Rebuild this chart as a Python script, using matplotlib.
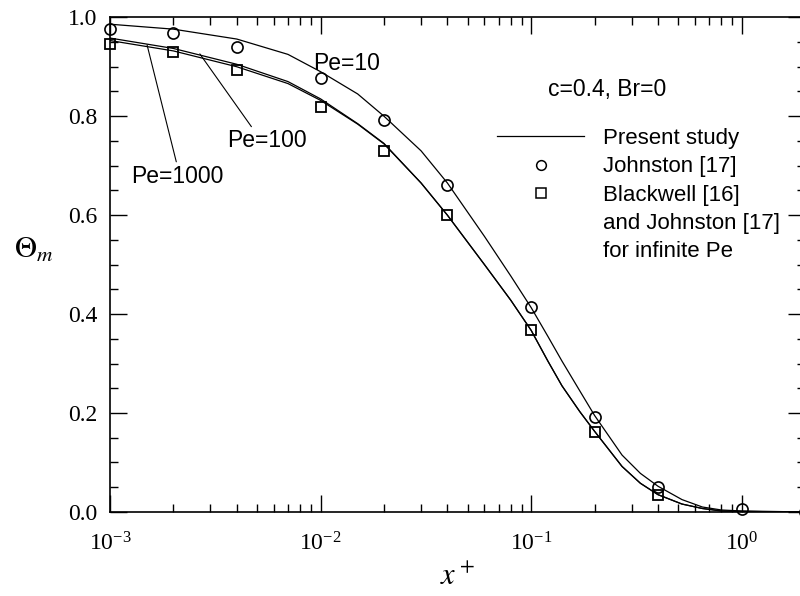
import numpy as np
import matplotlib
matplotlib.use("Agg")
import matplotlib.pyplot as plt
from matplotlib.lines import Line2D
from matplotlib.ticker import MultipleLocator, LogLocator, FormatStrFormatter

# ---- data ----
x_curve = [0.001, 0.002, 0.004, 0.007, 0.01, 0.015, 0.02, 0.03, 0.04, 0.06, 0.08,
           0.1, 0.12, 0.14, 0.17, 0.2, 0.27, 0.33, 0.4, 0.52, 0.65, 0.8, 1.0, 2.0]
theta_pe10 = [0.986, 0.976, 0.956, 0.925, 0.890, 0.845, 0.800, 0.730, 0.665, 0.557, 0.477,
              0.413, 0.355, 0.305, 0.245, 0.195, 0.115, 0.078, 0.052, 0.025, 0.010,
              0.004, 0.002, 0.0]
theta_pe100 = [0.958, 0.937, 0.905, 0.870, 0.835, 0.785, 0.745, 0.665, 0.600, 0.500, 0.428,
               0.367, 0.305, 0.255, 0.203, 0.163, 0.092, 0.058, 0.035, 0.016, 0.007,
               0.002, 0.001, 0.0]
theta_pe1000 = [0.953, 0.932, 0.900, 0.866, 0.832, 0.784, 0.744, 0.665, 0.600, 0.500, 0.428,
                0.367, 0.305, 0.255, 0.203, 0.163, 0.092, 0.058, 0.035, 0.016, 0.007,
                0.002, 0.001, 0.0]

x_johnston = [0.001, 0.002, 0.004, 0.01, 0.02, 0.04, 0.1, 0.2, 0.4, 1.0, 2.0]
theta_johnston = [0.976, 0.968, 0.939, 0.877, 0.792, 0.661, 0.415, 0.192, 0.051, 0.006, 0.0]
x_blackwell = [0.001, 0.002, 0.004, 0.01, 0.02, 0.04, 0.1, 0.2, 0.4]
theta_blackwell = [0.947, 0.929, 0.893, 0.818, 0.729, 0.600, 0.368, 0.162, 0.034]

legend_labels = ["Present study", "Johnston [17]", "Blackwell [16]",
                 "and Johnston [17]", "for infinite Pe"]

plt.rcParams.update({
    "font.family": ["Liberation Serif", "DejaVu Serif"],
    "mathtext.fontset": "stix",
})
sans = ["Liberation Sans", "DejaVu Sans"]
fs_txt = 16.5

fig = plt.figure(figsize=(8, 5.96), dpi=100)
ax = fig.add_axes([0.1375, 0.141, 0.869, 0.830])

ax.plot(x_curve, theta_pe10, color="black", lw=0.9)
ax.plot(x_curve, theta_pe100, color="black", lw=0.9)
ax.plot(x_curve, theta_pe1000, color="black", lw=0.9)
ax.plot(x_johnston, theta_johnston, linestyle="none", marker="o", ms=8,
        mfc="none", mec="black", mew=1.2, clip_on=False)
ax.plot(x_blackwell, theta_blackwell, linestyle="none", marker="s", ms=7.5,
        mfc="none", mec="black", mew=1.3, clip_on=False)

ax.set_xscale("log")
ax.set_xlim(1e-3, 2)
ax.set_ylim(0, 1.0)
ax.yaxis.set_major_locator(MultipleLocator(0.2))
ax.yaxis.set_minor_locator(MultipleLocator(0.05))
ax.yaxis.set_major_formatter(FormatStrFormatter("%.1f"))
ax.xaxis.set_major_locator(LogLocator(base=10, numticks=10))
ax.xaxis.set_minor_locator(LogLocator(base=10, subs=np.arange(2, 10), numticks=20))
ax.tick_params(which="both", direction="in", top=True, right=True, width=1)
ax.tick_params(which="major", length=12, labelsize=17, pad=9)
ax.tick_params(axis="x", which="major", pad=15)
ax.tick_params(which="minor", length=6)
for s in ax.spines.values():
    s.set_linewidth(1.2)

ax.set_xlabel(r"$x^+$", fontsize=22, labelpad=5)
ax.set_ylabel(r"$\Theta_m$", fontsize=22, rotation=0)
ax.yaxis.set_label_coords(-0.11, 0.5)

# annotations
ax.text(0.0133, 0.907, "Pe=10", family=sans, fontsize=fs_txt, ha="center", va="center")
ax.annotate("Pe=100", xy=(0.00267, 0.926), xytext=(0.00556, 0.75),
            family=sans, fontsize=fs_txt, ha="center", va="center",
            arrowprops=dict(arrowstyle="-", lw=0.8, color="black",
                            relpos=(0.33, 1.0), shrinkA=0, shrinkB=0))
ax.annotate("Pe=1000", xy=(0.0015, 0.944), xytext=(0.00208, 0.679),
            family=sans, fontsize=fs_txt, ha="center", va="center",
            arrowprops=dict(arrowstyle="-", lw=0.8, color="black",
                            relpos=(0.5, 1.0), shrinkA=0, shrinkB=0))
ax.text(0.229, 0.855, "c=0.4, Br=0", family=sans, fontsize=fs_txt, ha="center", va="center")

handles = [Line2D([], [], color="black", lw=0.9),
           Line2D([], [], linestyle="none", marker="o", ms=7, mfc="none", mec="black", mew=1.1),
           Line2D([], [], linestyle="none", marker="s", ms=6.5, mfc="none", mec="black", mew=1.1),
           Line2D([], [], linestyle="none"),
           Line2D([], [], linestyle="none")]
ax.legend(handles, legend_labels, loc="upper left", bbox_to_anchor=(0.557, 0.776),
          frameon=False, prop={"family": sans, "size": 16}, handlelength=3.9,
          handletextpad=0.85, labelspacing=0.33, borderpad=0, borderaxespad=0,
          numpoints=1)

fig.savefig("out.png", dpi=100)
